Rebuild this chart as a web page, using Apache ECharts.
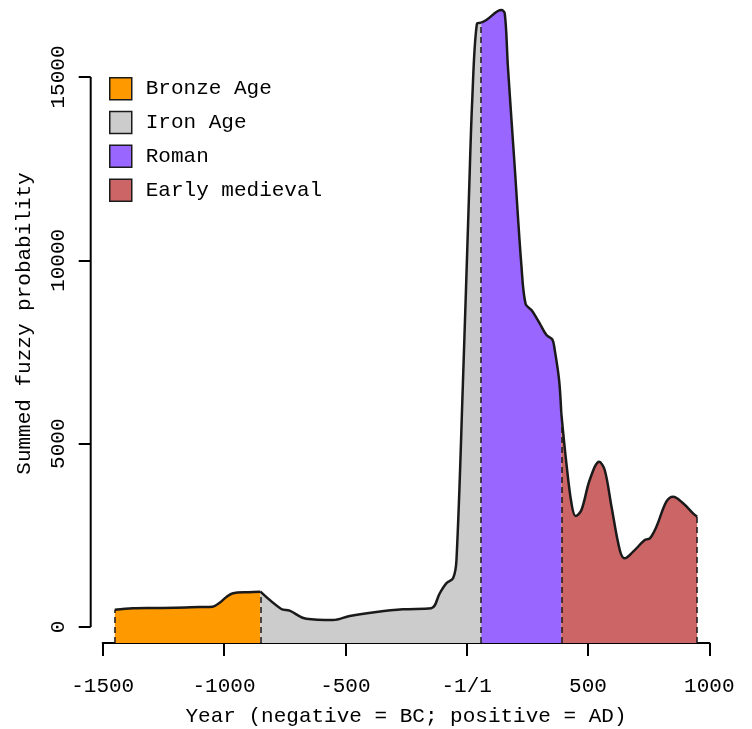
<!DOCTYPE html>
<html>
<head>
<meta charset="utf-8">
<script src="https://cdn.jsdelivr.net/npm/echarts@6/dist/echarts.min.js"></script>
<style>
html,body{margin:0;padding:0;background:#fff;}
#main{width:752px;height:729px;}
</style>
</head>
<body>
<div id="main"></div>
<script>
// 数据：年份与概率和
var years = [-1450,-1376,-1300,-1200,-1100,-1047,-1018,-990,-963,-900,-850,
  -764,-730,-661,-551,-482,-372,-263,-146,-111,-84,-56,-42,-15,9,23,42,60,
  81,143,157,170,198,226,243,267,301,329,353,363,381,390,
  411,432,449,473,507,546,569,597,631,651,686,734,755,782,823,851,892,933,950];
var values = [470,510,520,525,545,554,663,820,919,950,963,
  491,445,226,191,300,409,482,510,919,1192,1328,1827,6736,11645,14372,16444,16480,
  16553,16826,16735,15280,12553,9826,8808,8645,8282,7963,7845,7554,6736,5830,
  4464,3373,3027,3191,4009,4508,4281,3281,2100,1873,2055,2373,2419,2735,3417,3553,3373,3100,3008];
var periods = ['Bronze Age','Iron Age','Roman','Early medieval'];
var periodColors = ['#FF9900','#CCCCCC','#9966FF','#CC6666'];
var periodBounds = [-1450,-850,60,390,950];
var yTicks = [0,5000,10000,15000];

var FONT = 'Liberation Mono';
var yMin = -436, yMax = 16991;

function valueAt(y){ return values[years.indexOf(y)]; }

var series = [];
periods.forEach(function(p, i){
  var d = [];
  for (var k=0;k<years.length;k++){
    if (years[k] >= periodBounds[i] && years[k] <= periodBounds[i+1]) d.push([years[k], values[k]]);
  }
  series.push({
    name:p,
    type:'line',
    data:d,
    smooth:0.35,
    showSymbol:false,
    color:periodColors[i],
    lineStyle:{color:'#1a1a1a',width:2.5},
    areaStyle:{color:periodColors[i],opacity:1,origin:'start'},
    silent:true
  });
});

// 分期虚线
var bLines = periodBounds.map(function(b){
  return [{coord:[b,yMin]},{coord:[b,valueAt(b)]}];
});
series.push({
  name:'bounds',
  type:'line',
  data:[],
  markLine:{
    silent:true,
    symbol:['none','none'],
    label:{show:false},
    lineStyle:{color:'#1a1a1a',type:[6,4],width:1.5},
    data:bLines
  }
});

var chart = echarts.init(document.getElementById('main'));
var option = {
  animation:false,
  backgroundColor:'#fff',
  grid:{left:102.7,right:42.7,top:4,bottom:86,outerBoundsMode:'none',containLabel:false},
  legend:{
    orient:'vertical',
    left:104,
    top:72,
    itemWidth:22,
    itemHeight:22,
    itemGap:10.3,
    icon:'rect',
    textStyle:{fontFamily:FONT,fontSize:21,color:'#000',padding:[0,0,0,9]},
    data:periods.map(function(p,i){
      return {name:p,itemStyle:{color:periodColors[i],borderColor:'#1a1a1a',borderWidth:1.5}};
    })
  },
  xAxis:{
    type:'value',
    min:-1500,
    max:1000,
    interval:500,
    name:'Year (negative = BC; positive = AD)',
    nameLocation:'middle',
    nameGap:63,
    nameTextStyle:{fontFamily:FONT,fontSize:21,color:'#000'},
    axisLine:{show:true,onZero:false,lineStyle:{color:'#000',width:2}},
    axisTick:{show:true,length:13,lineStyle:{color:'#000',width:2}},
    axisLabel:{
      fontFamily:FONT,fontSize:21,color:'#000',margin:33,
      formatter:function(v){ return v===0 ? '-1/1' : String(v); }
    },
    splitLine:{show:false}
  },
  yAxis:{
    type:'value',
    min:yMin,
    max:yMax,
    offset:12,
    name:'Summed fuzzy probability',
    nameLocation:'middle',
    nameGap:56,
    nameTextStyle:{fontFamily:FONT,fontSize:21,color:'#000'},
    axisLine:{show:false,onZero:false},
    axisTick:{show:true,length:12,customValues:yTicks,lineStyle:{color:'#000',width:2}},
    axisLabel:{
      fontFamily:FONT,fontSize:21,color:'#000',rotate:90,margin:22,
      customValues:yTicks,
      formatter:function(v){ return String(v); }
    },
    splitLine:{show:false}
  },
  series:series
};
chart.setOption(option);

// y 轴线只画 0 到 15000
var xLeft = chart.convertToPixel({xAxisIndex:0}, -1500) - 12;
var yTop = chart.convertToPixel({yAxisIndex:0}, yTicks[yTicks.length-1]);
var yBot = chart.convertToPixel({yAxisIndex:0}, yTicks[0]);
chart.setOption({
  graphic:[{
    type:'line',
    shape:{x1:xLeft,y1:yTop,x2:xLeft,y2:yBot},
    style:{stroke:'#000',lineWidth:2},
    silent:true
  }]
});
</script>
</body>
</html>
